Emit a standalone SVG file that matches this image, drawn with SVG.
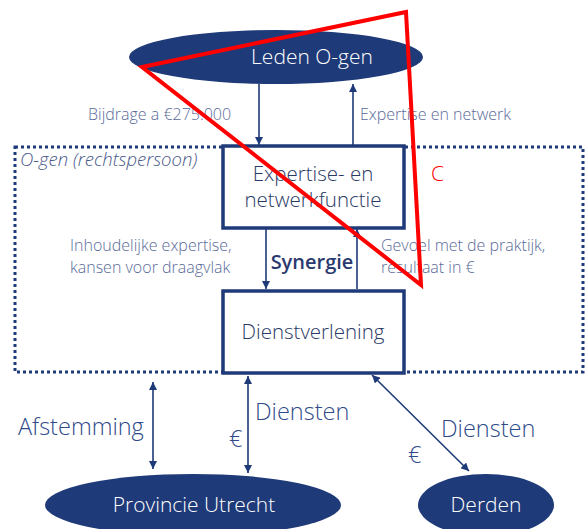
<svg xmlns="http://www.w3.org/2000/svg" width="588" height="529" viewBox="0 0 588 529">
<defs>
<style>
text{font-family:"Open Sans","Noto Sans","Liberation Sans",sans-serif;font-weight:300}
.node{fill:#1f3a78}
.ntx{fill:#ffffff;font-size:21px;text-anchor:middle}
.box{fill:#ffffff;stroke:#1f3a78;stroke-width:3.5}
.btx{fill:#2a3a66;font-size:20.5px;text-anchor:middle}
.lbl{fill:#5a6b9a;font-size:16px}
.big{fill:#2e4a8a;font-size:23.5px}
.con{stroke:#1f3a78;stroke-width:1.6;fill:none}
</style>
<marker id="ah" viewBox="0 0 10 10" refX="10" refY="5" markerWidth="8" markerHeight="8" markerUnits="userSpaceOnUse" orient="auto-start-reverse">
<path d="M0,0 L10,5 L0,10 z" fill="#1f3a78"/>
</marker>
</defs>
<rect width="588" height="529" fill="#ffffff"/>
<g id="container">
<rect x="15" y="147" width="568" height="225" fill="none" stroke="#1f3a78" stroke-width="3" stroke-dasharray="3,3"/>
<text x="20" y="166" style="font-style:italic;font-size:18.5px;fill:#4a5a8a">O-gen (rechtspersoon)</text>
</g>
<g id="connectors">
<line class="con" x1="259" y1="84" x2="259" y2="145" marker-end="url(#ah)"/>
<line class="con" x1="353" y1="145" x2="353" y2="84" marker-end="url(#ah)"/>
<line class="con" x1="266" y1="229" x2="266" y2="289" marker-end="url(#ah)"/>
<line class="con" x1="357" y1="289" x2="357" y2="229" marker-end="url(#ah)"/>
<line class="con" x1="153" y1="382" x2="153" y2="469" marker-start="url(#ah)" marker-end="url(#ah)"/>
<line class="con" x1="248" y1="376" x2="248" y2="473" marker-start="url(#ah)" marker-end="url(#ah)"/>
<line class="con" x1="372" y1="375" x2="469" y2="471" marker-start="url(#ah)" marker-end="url(#ah)"/>
<text class="lbl" x="88" y="120">Bijdrage a €275.000</text>
<text class="lbl" x="360" y="120">Expertise en netwerk</text>
<text class="lbl" x="70" y="251">Inhoudelijke expertise,</text>
<text class="lbl" x="70" y="273">kansen voor draagvlak</text>
<text class="lbl" x="381" y="251">Gevoel met de praktijk,</text>
<text class="lbl" x="381" y="273">resultaat in €</text>
<text x="312" y="269" style="font-size:20px;font-weight:600;fill:#2a3a6e;text-anchor:middle">Synergie</text>
<text class="big" x="18" y="435">Afstemming</text>
<text class="big" x="255" y="420">Diensten</text>
<text class="big" x="229" y="447">€</text>
<text class="big" x="441" y="437">Diensten</text>
<text class="big" x="408" y="463">€</text>
</g>
<g id="leden">
<ellipse class="node" cx="276" cy="57" rx="147" ry="27"/>
<text class="ntx" x="312" y="64">Leden O-gen</text>
</g>
<g id="expertise">
<rect class="box" x="223" y="146" width="181" height="82"/>
<text class="btx" x="313" y="181">Expertise- en</text>
<text class="btx" x="313" y="207">netwerkfunctie</text>
</g>
<g id="dienstverlening">
<rect class="box" x="223" y="291" width="181" height="82"/>
<text class="btx" x="313" y="339">Dienstverlening</text>
</g>
<g id="provincie">
<ellipse class="node" cx="193" cy="505" rx="148" ry="31"/>
<text class="ntx" x="194" y="512">Provincie Utrecht</text>
</g>
<g id="derden">
<ellipse class="node" cx="486" cy="505" rx="68" ry="31"/>
<text class="ntx" x="486" y="512">Derden</text>
</g>
<g id="annotation">
<polygon points="142,67 406,12 421,285" fill="none" stroke="#ff0000" stroke-width="4" stroke-linejoin="miter"/>
<text x="431" y="181" style="font-size:21px;fill:#ff0000">C</text>
</g>
</svg>
